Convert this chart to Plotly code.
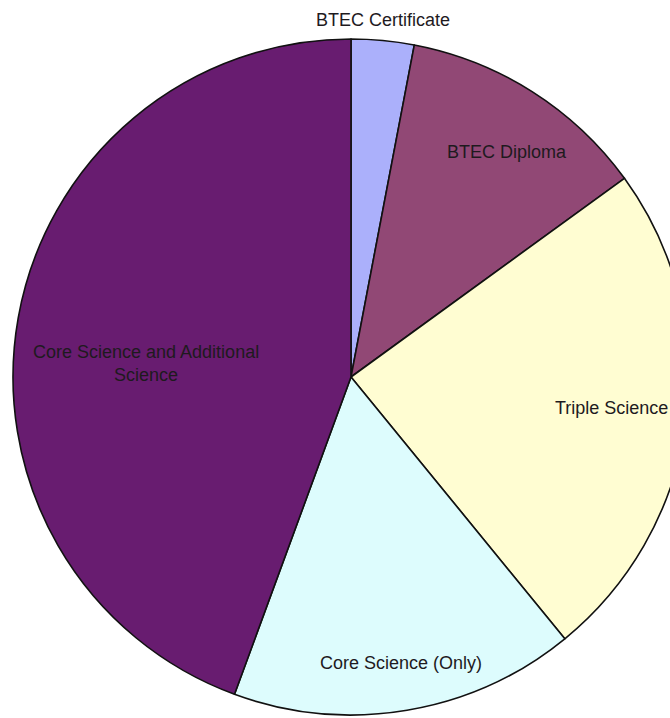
import plotly.graph_objects as go

# ---- data ----
categories = ["BTEC Certificate", "BTEC Diploma", "Triple Science",
              "Core Science (Only)", "Core Science and Additional Science"]
shares = [3.0, 12.0, 24.1, 16.5, 44.4]
label_texts = ["BTEC Certificate", "BTEC Diploma", "Triple Science",
               "Core Science (Only)", "Core Science and Additional<br>Science"]

# ---- style ----
colors = ["#abb0fb", "#914875", "#fffdd2", "#ddfcfd", "#681c70"]
W, H = 702, 718
# label anchor positions (pixels from top-left)
label_px = [(383, 20), (507, 152), (611, 408), (401, 663), (146, 363)]

fig = go.Figure()
fig.add_trace(go.Pie(
    labels=categories,
    values=shares,
    sort=False,
    direction="clockwise",
    rotation=0,
    textinfo="none",
    hoverinfo="label+percent",
    marker=dict(colors=colors, line=dict(color="#111111", width=1.6)),
    domain=dict(x=[0, 1], y=[0.0042, 0.9457]),
    showlegend=False,
))

for txt, (px, py) in zip(label_texts, label_px):
    fig.add_annotation(
        x=px / W, y=1 - py / H, xref="paper", yref="paper",
        text=txt, showarrow=False, xanchor="center", yanchor="middle",
        font=dict(family="Liberation Sans, Arial, sans-serif", size=18, color="#1e1a1e"),
    )

fig.update_layout(
    width=W, height=H,
    margin=dict(l=0, r=0, t=0, b=0),
    paper_bgcolor="white", plot_bgcolor="white",
)

fig.write_html("out.html", post_script="document.body.style.margin='0';document.body.style.overflow='hidden';document.documentElement.style.overflow='hidden';")
